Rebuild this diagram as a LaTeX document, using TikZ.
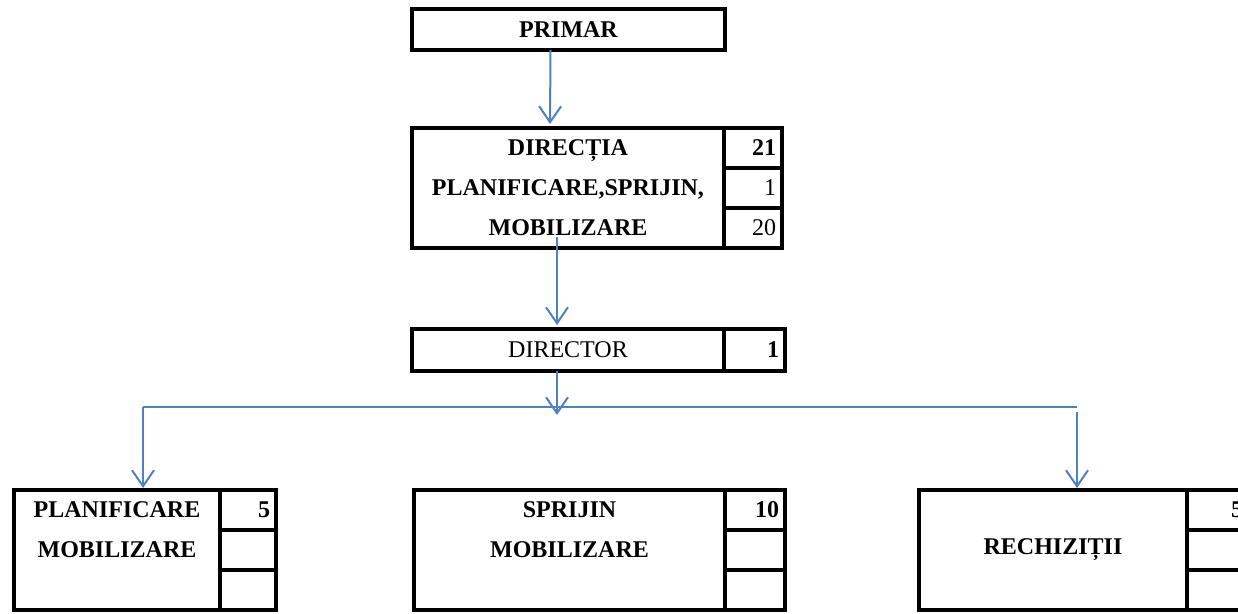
\documentclass[tikz,border=0pt]{standalone}
\usepackage{fontspec}
\setmainfont{Liberation Serif}
\usepackage{tikz}
\usetikzlibrary{arrows.meta,positioning}
\definecolor{linkblue}{RGB}{79,129,189}

\begin{document}
\begin{tikzpicture}[x=0.5pt, y=-0.5pt,
  box/.style={draw, line width=2pt, outer sep=0pt, inner sep=0pt, align=center,
    font=\fontsize{12}{20}\selectfont\bfseries},
  cell/.style={draw, line width=2pt, outer sep=0pt, inner ysep=0pt, inner xsep=3pt,
    minimum height=20pt, text width=#1, align=right, font=\fontsize{12}{14}\selectfont},
  cell/.default=23pt,
  link/.style={draw=linkblue, line width=1pt},
  arr/.style={link, -{Straight Barb[length=8pt, width=11pt, line width=1pt]}}]
\useasboundingbox (0,0) rectangle (1238,614);
\clip (0,0) rectangle (1238,614);
% top levels
\node[box, minimum width=156.5pt, minimum height=20.5pt] (primar) at (568.5,29.5) {PRIMAR};
\node[box, minimum width=156pt, minimum height=60pt] (directia) at (568,188) {DIRECȚIA\\PLANIFICARE,SPRIJIN,\\MOBILIZARE};
\node[cell, anchor=north west] (directia1) at (directia.north east) {\textbf{21}};
\node[cell, below=0pt of directia1] (directia2) {1};
\node[cell, below=0pt of directia2] (directia3) {20};
\node[box, minimum width=156pt, minimum height=21pt, font=\fontsize{12}{14}\selectfont] (director) at (568,350) {DIRECTOR};
\node[cell=24.5pt, minimum height=21pt, anchor=north west] (director1) at (director.north east) {\textbf{1}};
% bottom level
\node[box, minimum width=103pt, minimum height=60pt] (plan) at (117,550) {PLANIFICARE\\MOBILIZARE\\\mbox{}};
\node[cell=22pt, anchor=north west] (plan1) at (plan.north east) {\textbf{5}};
\node[cell=22pt, below=0pt of plan1] (plan2) {};
\node[cell=22pt, below=0pt of plan2] (plan3) {};
\node[box, minimum width=155.5pt, minimum height=60pt] (sprijin) at (569.5,550) {SPRIJIN\\MOBILIZARE\\\mbox{}};
\node[cell=24pt, anchor=north west] (sprijin1) at (sprijin.north east) {\textbf{10}};
\node[cell=24pt, below=0pt of sprijin1] (sprijin2) {};
\node[cell=24pt, below=0pt of sprijin2] (sprijin3) {};
\node[box, minimum width=134pt, minimum height=60pt] (rech) at (1053,550) {RECHIZIȚII};
\node[cell=25pt, anchor=north west] (rech1) at (rech.north east) {\textbf{5}};
\node[cell=25pt, below=0pt of rech1] (rech2) {};
\node[cell=25pt, below=0pt of rech2] (rech3) {};
% connectors
\coordinate (hub) at (557,415);
\coordinate (busL) at (143,407);
\coordinate (busR) at (1077,407);
\draw[arr] ([xshift=-9pt]primar.south) -- ([xshift=-9pt, yshift=2pt]directia.north);
\draw[arr] ([xshift=-5.5pt, yshift=5.5pt]directia.south) -- ([xshift=-5.5pt, yshift=2pt]director.north);
\draw[arr] ([xshift=-5.5pt]director.south) -- (hub);
\draw[link] (busL) -- (busR);
\draw[arr] (busL) -- ([yshift=1pt]plan.north -| busL);
\draw[arr] ([yshift=-2.5pt]busR) -- ([yshift=1pt]rech.north -| busR);
\end{tikzpicture}
\end{document}
